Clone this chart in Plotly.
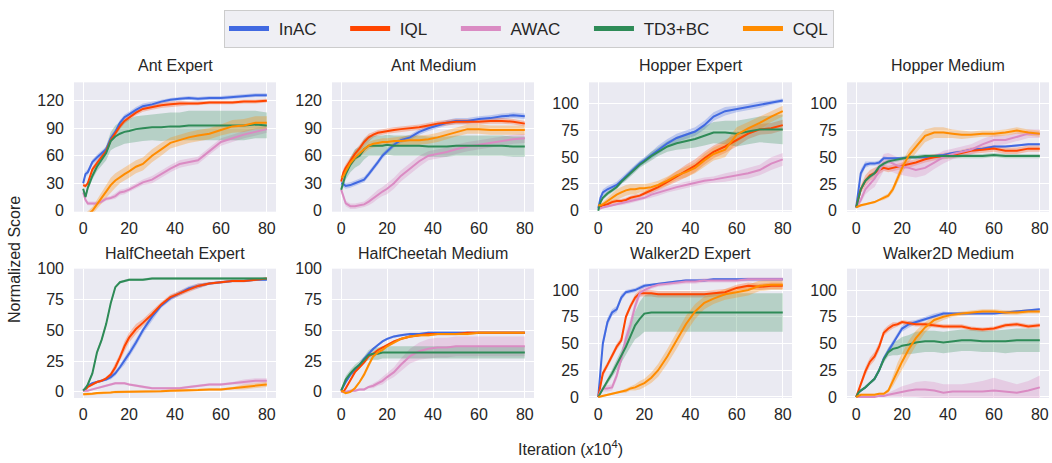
import plotly.graph_objects as go

# ---------------- data ----------------
X = [0, 1, 2, 4, 6, 8, 10, 12, 14, 16, 18, 20, 23, 26, 30, 34, 38, 42, 46, 50, 55, 60, 65, 70, 75, 80]

METHODS = ["InAC", "IQL", "AWAC", "TD3+BC", "CQL"]
COLORS = ["#4169E1", "#FF4500", "#DA8BC3", "#2E8B57", "#FF8C00"]
FILLS = ["rgba(65,105,225,0.28)", "rgba(255,69,0,0.28)", "rgba(218,139,195,0.32)",
         "rgba(46,139,87,0.28)", "rgba(255,140,0,0.30)"]

TITLES = ["Ant Expert", "Ant Medium", "Hopper Expert", "Hopper Medium",
          "HalfCheetah Expert", "HalfCheetah Medium", "Walker2D Expert", "Walker2D Medium"]
ANT_TICKS = [0, 30, 60, 90, 120]
QUARTER_TICKS = [0, 25, 50, 75, 100]
X_TICKS = [0, 20, 40, 60, 80]

# Ant Expert
ant_expert_inac = [30,40,42,53,58,62,67,79,86,96,102,105,110,114,116,119,121,122,123,122,123,123,124,125,126,126]
ant_expert_iql = [28,27,30,45,52,58,65,77,85,92,98,102,107,111,113,115,116,117,117,117,118,118,118,119,119,120]
ant_expert_awac = [20,12,8,8,8,10,13,14,16,20,21,23,27,31,34,40,46,51,53,55,65,75,79,83,86,89]
ant_expert_td3 = [24,15,25,38,48,55,63,76,81,84,86,87,89,90,91,91,92,92,93,93,93,93,93,93,94,93]
ant_expert_cql = [-8,-6,-3,0,7,14,21,28,33,37,40,43,48,51,60,67,74,77,80,82,84,88,92,93,96,96]
ant_expert_inac_sd = [2,3,3,3,3,3,3,3,3,3,3,3,3,3,3,2,2,2,2,2,2,2,2,2,2,2]
ant_expert_iql_sd = [2,2,2,3,3,3,3,3,3,3,3,3,3,3,3,3,3,3,2,2,2,2,2,2,2,2]
ant_expert_awac_sd = [2,2,2,2,2,2,2,2,3,3,3,3,3,3,4,4,4,4,4,4,4,4,4,4,4,4]
ant_expert_td3_sd = [2,3,3,4,5,6,8,10,12,13,13,13,14,14,14,15,15,15,16,16,16,16,16,16,15,14]
ant_expert_cql_sd = [3,3,3,4,5,6,7,8,8,7,7,7,7,7,7,7,6,6,6,6,6,6,7,7,7,7]

# Ant Medium
ant_medium_inac = [30,29,27,28,30,32,34,40,46,53,60,65,72,77,80,86,90,93,96,98,98,100,101,103,104,103]
ant_medium_iql = [32,42,47,55,62,68,75,80,83,85,86,87,88,89,90,91,93,95,96,97,97,97,98,98,97,95]
ant_medium_awac = [23,15,8,5,5,6,7,10,14,18,21,24,30,38,46,54,60,62,64,67,70,72,74,76,78,79]
ant_medium_td3 = [23,32,40,50,57,60,67,71,71,71,71,72,71,71,71,71,70,70,70,71,71,71,71,71,70,70]
ant_medium_cql = [36,38,43,52,58,63,67,71,73,74,75,75,76,76,77,77,78,80,83,86,89,89,88,88,88,88]
ant_medium_inac_sd = [3,3,3,3,3,3,3,3,3,3,3,3,3,3,3,3,3,3,3,3,3,3,3,3,3,3]
ant_medium_iql_sd = [3,4,4,4,4,4,4,4,3,3,3,3,3,3,3,3,3,3,3,3,3,3,3,3,3,3]
ant_medium_awac_sd = [3,3,3,3,3,3,3,4,5,5,5,6,6,6,6,6,5,5,5,5,5,5,5,5,5,5]
ant_medium_td3_sd = [3,5,6,8,10,10,11,11,11,11,11,11,11,11,11,11,11,11,11,11,11,11,11,11,11,11]
ant_medium_cql_sd = [3,3,4,4,4,4,4,4,4,4,4,4,4,5,5,5,5,5,5,5,5,5,5,5,5,5]

# Hopper Expert
hopper_expert_inac = [2,12,17,20,22,24,28,32,36,40,44,47,52,57,63,68,71,74,80,88,93,95,97,99,101,103]
hopper_expert_iql = [5,4,5,6,8,9,9,10,12,13,14,16,19,22,27,32,37,42,49,55,60,66,72,76,77,80]
hopper_expert_awac = [2,2,3,4,5,6,7,8,9,10,11,12,15,17,20,22,24,26,28,29,31,33,35,38,44,48]
hopper_expert_td3 = [0,8,12,16,19,22,27,31,35,39,43,46,51,55,60,63,65,67,70,73,73,72,74,76,76,76]
hopper_expert_cql = [5,5,6,9,12,15,17,19,20,20,21,21,22,24,28,33,36,40,47,53,57,71,77,82,88,93]
hopper_expert_inac_sd = [1,2,3,3,3,3,3,3,3,3,3,3,3,4,4,4,4,4,4,4,4,3,3,3,2,2]
hopper_expert_iql_sd = [1,1,1,2,2,2,2,2,2,2,2,2,3,3,4,5,6,6,6,6,6,6,5,5,5,5]
hopper_expert_awac_sd = [1,1,1,1,1,1,2,2,2,2,2,2,3,3,3,3,3,3,3,3,4,4,5,5,6,6]
hopper_expert_td3_sd = [1,2,2,2,2,2,2,3,3,3,3,3,4,4,5,6,7,8,9,10,11,12,12,12,13,14]
hopper_expert_cql_sd = [1,1,2,3,4,5,5,5,5,5,4,4,4,4,4,4,5,5,6,6,7,7,6,6,5,5]

# Hopper Medium
hopper_medium_inac = [3,20,35,43,44,44,45,49,49,49,49,49,50,50,50,51,52,54,55,57,58,60,60,61,62,62]
hopper_medium_iql = [3,12,20,28,33,35,38,40,39,40,41,42,43,45,48,50,51,52,54,56,57,58,56,56,58,58]
hopper_medium_awac = [3,6,10,20,25,30,37,45,46,44,42,41,40,38,40,45,50,53,55,57,62,66,66,69,72,72]
hopper_medium_td3 = [3,12,20,28,32,35,41,44,46,47,48,49,50,50,51,51,51,51,51,51,51,52,51,51,51,51]
hopper_medium_cql = [3,4,5,6,7,8,10,12,14,20,30,40,52,60,70,73,73,72,71,71,72,72,73,75,73,72]
hopper_medium_inac_sd = [1,3,4,3,2,2,2,2,1,1,1,1,1,1,1,1,1,1,1,1,1,1,1,1,1,1]
hopper_medium_iql_sd = [1,3,4,5,5,5,4,3,3,3,3,3,3,3,3,3,3,3,3,3,3,3,3,3,3,3]
hopper_medium_awac_sd = [1,2,3,5,6,8,8,8,8,8,8,8,8,7,7,6,6,5,5,5,5,5,4,4,4,4]
hopper_medium_td3_sd = [1,2,2,2,2,2,2,2,2,2,2,2,2,2,2,2,2,2,2,2,2,2,2,2,2,2]
hopper_medium_cql_sd = [1,1,1,1,1,1,1,2,2,3,4,5,6,6,6,5,5,4,4,3,3,3,3,3,3,3]

# HalfCheetah Expert
halfcheetah_expert_inac = [1,3,5,7,8,9,10,12,15,20,25,31,40,50,61,70,76,80,84,86,88,89,90,90,91,91]
halfcheetah_expert_iql = [1,2,4,6,8,9,11,14,20,28,37,44,51,56,63,71,77,80,83,86,88,89,90,90,91,92]
halfcheetah_expert_awac = [1,1,1,2,3,4,5,6,7,7,7,6,5,4,3,3,3,3,4,5,6,6,7,8,9,9]
halfcheetah_expert_td3 = [1,3,6,15,32,42,55,72,85,89,90,91,91,91,92,92,92,92,92,92,92,92,92,92,92,92]
halfcheetah_expert_cql = [-2,-2,-2,-1.5,-1,-1,-0.5,-0.5,0,0,0,0,0,0.5,0.5,0.5,1,1,1,1.5,2,2,3,4,5,6]
halfcheetah_expert_inac_sd = [1,1,1,1,1,1,1,2,2,2,3,3,3,3,3,2,2,2,2,2,1,1,1,1,1,1]
halfcheetah_expert_iql_sd = [1,1,1,1,1,1,1,2,3,3,4,4,4,3,3,2,2,2,2,2,1,1,1,1,1,1]
halfcheetah_expert_awac_sd = [1,1,1,1,1,1,1,1,1,1,1,1,1,1,1,1,1,1,1,1,1,1,1,2,2,2]
halfcheetah_expert_td3_sd = [1,1,1,2,2,2,2,2,1,1,1,1,1,1,1,1,1,1,1,1,1,1,1,1,1,1]
halfcheetah_expert_cql_sd = [1,1,1,1,1,1,1,1,1,1,1,1,1,1,1,1,1,1,1,1,1,1,1,2,2,2]

# HalfCheetah Medium
halfcheetah_medium_inac = [1,5,8,14,18,22,27,31,35,38,41,43,45,46,47,47,48,48,48,48,48,48,48,48,48,48]
halfcheetah_medium_iql = [1,0,3,10,16,20,24,29,31,34,36,38,41,43,45,46,47,47,47,47,48,48,48,48,48,48]
halfcheetah_medium_awac = [0,0,0,1,1,2,2,4,5,7,9,12,16,22,29,33,35,36,36,37,37,37,37,37,37,37]
halfcheetah_medium_td3 = [1,6,10,15,19,22,26,30,31,31,32,32,32,32,32,32,32,32,32,32,32,32,32,32,32,32]
halfcheetah_medium_cql = [1,0,-1,0,3,8,14,22,29,32,34,37,40,43,45,46,46,47,47,47,47,48,48,48,48,48]
halfcheetah_medium_inac_sd = [1,1,1,1,1,1,1,1,1,1,1,1,1,1,1,1,1,1,1,1,1,1,1,1,1,1]
halfcheetah_medium_iql_sd = [1,1,1,1,1,1,1,1,1,1,1,1,1,1,1,1,1,1,1,1,1,1,1,1,1,1]
halfcheetah_medium_awac_sd = [1,1,1,1,1,1,1,1,2,2,3,3,4,5,6,7,8,8,8,8,8,8,8,8,8,8]
halfcheetah_medium_td3_sd = [1,2,3,3,3,3,3,4,5,5,5,5,5,5,5,5,5,5,5,5,5,5,5,5,5,5]
halfcheetah_medium_cql_sd = [1,1,1,1,1,1,2,2,2,1,1,1,1,1,1,1,1,1,1,1,1,1,1,1,1,1]

# Walker2D Expert
walker_expert_inac = [0,24,50,70,79,82,93,98,99,100,102,104,105,106,107,108,109,109,109,110,110,110,110,110,110,110]
walker_expert_iql = [0,10,22,30,38,47,53,75,85,93,97,97,97,96,96,96,96,96,96,97,98,102,104,103,104,104]
walker_expert_awac = [0,5,8,8,9,20,36,55,68,85,97,100,103,105,106,107,108,108,109,109,109,109,110,110,110,110]
walker_expert_td3 = [0,4,8,15,22,30,38,47,57,67,73,78,79,79,79,79,79,79,79,79,79,79,79,79,79,79]
walker_expert_cql = [0,0.5,1,2,3,4,5,6,8,9,11,13,18,25,38,53,68,80,88,92,96,98,100,104,105,105]
walker_expert_inac_sd = [1,4,5,4,3,3,3,2,2,2,2,2,1,1,1,1,1,1,1,1,1,1,1,1,1,1]
walker_expert_iql_sd = [1,2,3,3,3,3,3,3,3,3,3,3,3,3,3,3,3,3,3,3,3,3,3,3,3,3]
walker_expert_awac_sd = [1,2,3,3,3,4,5,6,6,5,4,3,2,2,2,2,2,2,2,2,2,2,2,2,2,2]
walker_expert_td3_sd = [1,1,2,3,4,5,6,8,10,13,16,17,18,18,18,18,18,18,18,18,18,18,18,18,18,18]
walker_expert_cql_sd = [1,1,1,1,1,1,1,2,2,3,4,4,5,6,7,8,8,7,6,5,5,5,5,5,5,5]

# Walker2D Medium
walker_medium_inac = [0,4,6,9,13,17,25,36,43,50,58,64,68,70,73,76,78,78,78,78,78,78,79,80,81,82]
walker_medium_iql = [0,6,12,24,33,38,47,60,64,67,68,70,69,68,68,67,66,66,66,64,63,64,67,68,66,67]
walker_medium_awac = [0,0,0,0,0,0,1,1,2,3,4,5,6,7,7,6,4,5,5,5,5,6,5,4,6,9]
walker_medium_td3 = [0,4,6,9,13,17,25,35,42,45,46,48,49,51,52,52,51,52,53,53,52,52,52,53,53,53]
walker_medium_cql = [0,1,2,2,2,2,3,3,6,15,25,33,45,55,65,72,75,77,78,79,80,80,79,79,80,80]
walker_medium_inac_sd = [1,1,1,1,1,1,2,2,3,3,3,3,3,2,2,2,2,1,1,1,1,1,1,1,1,1]
walker_medium_iql_sd = [1,2,3,4,4,4,4,3,3,3,2,2,2,2,2,2,2,2,2,2,2,2,2,2,2,2]
walker_medium_awac_sd = [0,0,0,0,0,0,1,1,2,3,4,5,6,7,8,8,8,7,7,8,10,12,10,8,9,11]
walker_medium_td3_sd = [1,1,1,1,1,2,2,3,4,6,7,8,9,10,10,10,10,10,10,10,10,10,11,11,11,11]
walker_medium_cql_sd = [1,1,1,1,1,1,1,1,2,5,7,8,8,7,5,4,3,2,2,2,2,2,2,2,2,2]

PANEL_MEANS = [
    [ant_expert_inac, ant_expert_iql, ant_expert_awac, ant_expert_td3, ant_expert_cql],
    [ant_medium_inac, ant_medium_iql, ant_medium_awac, ant_medium_td3, ant_medium_cql],
    [hopper_expert_inac, hopper_expert_iql, hopper_expert_awac, hopper_expert_td3, hopper_expert_cql],
    [hopper_medium_inac, hopper_medium_iql, hopper_medium_awac, hopper_medium_td3, hopper_medium_cql],
    [halfcheetah_expert_inac, halfcheetah_expert_iql, halfcheetah_expert_awac, halfcheetah_expert_td3, halfcheetah_expert_cql],
    [halfcheetah_medium_inac, halfcheetah_medium_iql, halfcheetah_medium_awac, halfcheetah_medium_td3, halfcheetah_medium_cql],
    [walker_expert_inac, walker_expert_iql, walker_expert_awac, walker_expert_td3, walker_expert_cql],
    [walker_medium_inac, walker_medium_iql, walker_medium_awac, walker_medium_td3, walker_medium_cql],
]
PANEL_SDS = [
    [ant_expert_inac_sd, ant_expert_iql_sd, ant_expert_awac_sd, ant_expert_td3_sd, ant_expert_cql_sd],
    [ant_medium_inac_sd, ant_medium_iql_sd, ant_medium_awac_sd, ant_medium_td3_sd, ant_medium_cql_sd],
    [hopper_expert_inac_sd, hopper_expert_iql_sd, hopper_expert_awac_sd, hopper_expert_td3_sd, hopper_expert_cql_sd],
    [hopper_medium_inac_sd, hopper_medium_iql_sd, hopper_medium_awac_sd, hopper_medium_td3_sd, hopper_medium_cql_sd],
    [halfcheetah_expert_inac_sd, halfcheetah_expert_iql_sd, halfcheetah_expert_awac_sd, halfcheetah_expert_td3_sd, halfcheetah_expert_cql_sd],
    [halfcheetah_medium_inac_sd, halfcheetah_medium_iql_sd, halfcheetah_medium_awac_sd, halfcheetah_medium_td3_sd, halfcheetah_medium_cql_sd],
    [walker_expert_inac_sd, walker_expert_iql_sd, walker_expert_awac_sd, walker_expert_td3_sd, walker_expert_cql_sd],
    [walker_medium_inac_sd, walker_medium_iql_sd, walker_medium_awac_sd, walker_medium_td3_sd, walker_medium_cql_sd],
]
Y_RANGES = [[-1, 140], [-1, 140], [-1, 120], [-1, 120], [-5, 100], [-5, 100], [-1, 120], [-1, 120]]
Y_TICKS = [ANT_TICKS, ANT_TICKS, QUARTER_TICKS, QUARTER_TICKS,
           QUARTER_TICKS, QUARTER_TICKS, QUARTER_TICKS, QUARTER_TICKS]

# ---------------- layout geometry (pixels) ----------------
W, H = 1052, 463
COL_PX = [(74, 276), (332, 534), (589, 792), (847, 1049)]
ROW_PX = [(77, 211), (270, 404)]
FONT = "Liberation Sans, Arial, Helvetica, sans-serif"
TXT = "#262626"
NBSP = "\u00a0"

fig = go.Figure()
layout = dict(
    width=W, height=H, autosize=False,
    margin=dict(l=0, r=0, t=0, b=0),
    paper_bgcolor="white", plot_bgcolor="#EAEAF2",
    font=dict(family=FONT, size=16, color=TXT),
    showlegend=True,
    legend=dict(orientation="h", x=529 / W, xanchor="center", y=1 - 2 / H, yanchor="top",
                font=dict(size=17, color=TXT), bgcolor="#EFEFF4", bordercolor="#CCCCCC",
                borderwidth=1, itemwidth=40, tracegroupgap=0),
)
annotations = []

for p in range(8):
    r, c = divmod(p, 4)
    ax = "" if p == 0 else str(p + 1)
    x0, x1 = COL_PX[c]
    top, bot = ROW_PX[r]
    layout["xaxis" + ax] = dict(
        domain=[x0 / W, x1 / W], range=[-4, 84], anchor="y" + ax,
        tickvals=X_TICKS, showgrid=True, gridcolor="white", gridwidth=1.2,
        zeroline=False, showline=False, ticks="", ticklabelstandoff=5,
        tickfont=dict(size=16, color=TXT), fixedrange=True)
    layout["yaxis" + ax] = dict(
        domain=[1 - bot / H, 1 - top / H], range=Y_RANGES[p], anchor="x" + ax,
        tickvals=Y_TICKS[p], showgrid=True, gridcolor="white", gridwidth=1.2,
        zeroline=False, showline=False, ticks="", ticklabelstandoff=9,
        tickfont=dict(size=16, color=TXT), fixedrange=True)
    title_y = 60 if r == 0 else 254
    annotations.append(dict(text=TITLES[p], x=(x0 + x1) / 2 / W, y=1 - title_y / H,
                            xref="paper", yref="paper", showarrow=False,
                            xanchor="center", yanchor="middle",
                            font=dict(size=16, color=TXT)))
    for m in range(5):
        mean = PANEL_MEANS[p][m]
        sd = PANEL_SDS[p][m]
        upper = [v + s for v, s in zip(mean, sd)]
        lower = [v - s for v, s in zip(mean, sd)]
        fig.add_trace(go.Scatter(
            x=X + X[::-1], y=upper + lower[::-1], xaxis="x" + ax, yaxis="y" + ax,
            fill="toself", fillcolor=FILLS[m], line=dict(width=0), mode="lines",
            hoverinfo="skip", showlegend=False))
    for m in range(5):
        fig.add_trace(go.Scatter(
            x=X, y=PANEL_MEANS[p][m], xaxis="x" + ax, yaxis="y" + ax, mode="lines",
            line=dict(color=COLORS[m], width=2), name=METHODS[m],
            legendgroup=METHODS[m], showlegend=False))

# legend entries (thick line samples); padding widens the gap between entries
for m in range(5):
    label = NBSP + METHODS[m] + (NBSP * 5 if m < 4 else "")
    fig.add_trace(go.Scatter(x=[None], y=[None], mode="lines", name=label,
                             legendgroup=METHODS[m], line=dict(color=COLORS[m], width=5),
                             showlegend=True))

annotations.append(dict(text="Normalized Score", x=15 / W, y=1 - 261 / H,
                        xref="paper", yref="paper", showarrow=False, textangle=-90,
                        xanchor="center", yanchor="middle", font=dict(size=16, color=TXT)))
annotations.append(dict(text="Iteration (<i>x</i>10<sup>4</sup>)", x=570 / W, y=1 - 456 / H,
                        xref="paper", yref="paper", showarrow=False,
                        xanchor="center", yanchor="middle", font=dict(size=16, color=TXT)))
layout["annotations"] = annotations
fig.update_layout(**layout)

fig.write_html("out.html", config={"displayModeBar": False},
               post_script="document.body.style.margin='0px';")
